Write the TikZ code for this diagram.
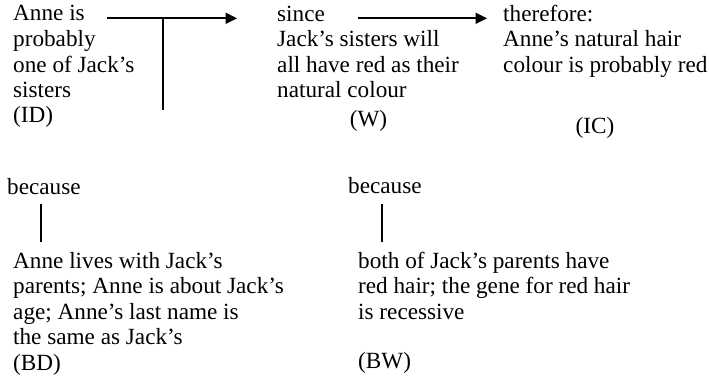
\documentclass[tikz,border=0pt]{standalone}
\usepackage{fontspec}
\setmainfont{Liberation Serif}
\usetikzlibrary{arrows.meta}
\begin{document}
\begin{tikzpicture}[x=1pt,y=-1pt,
  txt/.style={inner sep=0pt, anchor=base west, align=left,
    font=\fontsize{23.2}{25.5}\selectfont},
  lbl/.style={inner sep=0pt, anchor=base,
    font=\fontsize{23.2}{25.5}\selectfont},
  link/.style={line width=1.7pt},
  flow/.style={line width=1.7pt, -{Triangle[length=11.5pt,width=11pt]}}]
\useasboundingbox (0,0) rectangle (709,377);

% upper row: data, warrant, conclusion (placed by the baseline of the last line)
\node[txt] (id) at (13,123) {Anne is\\probably\\one of Jack’s\\sisters\\(ID)};
\node[txt] (w) at (277,98) {since\\Jack’s sisters will\\all have red as their\\natural colour};
\node[lbl] (wl) at (368.5,127) {(W)};
\node[txt] (ic) at (503,72.5) {therefore:\\Anne’s natural hair\\colour is probably red};
\node[lbl] (icl) at (595,133) {(IC)};

% lower row: backings
\node[txt] (bec1) at (7,194) {because};
\node[txt] (bec2) at (348,193) {because};
\node[txt] (bd) at (13,370) {Anne lives with Jack’s\\parents; Anne is about Jack’s\\age; Anne’s last name is\\the same as Jack’s\\(BD)};
\node[txt] (bw) at (358,319) {both of Jack’s parents have\\red hair; the gene for red hair\\is recessive};
\node[txt] (bwl) at (358,368) {(BW)};

% connector end points
\coordinate (a1s) at (107,18.3);
\coordinate (a1e) at (237,18.3);
\coordinate (tj) at (163.3,18.3);
\coordinate (tb) at (163.3,110);
\coordinate (a2s) at (358,18.3);
\coordinate (a2e) at (487,18.3);
\coordinate (v1t) at (40.7,204);
\coordinate (v1b) at (40.7,242);
\coordinate (v2t) at (382.3,204);
\coordinate (v2b) at (382.3,242);

\draw[flow] (a1s) -- (a1e);
\draw[link] (tj) -- (tb);
\draw[flow] (a2s) -- (a2e);
\draw[link] (v1t) -- (v1b);
\draw[link] (v2t) -- (v2b);
\end{tikzpicture}
\end{document}
